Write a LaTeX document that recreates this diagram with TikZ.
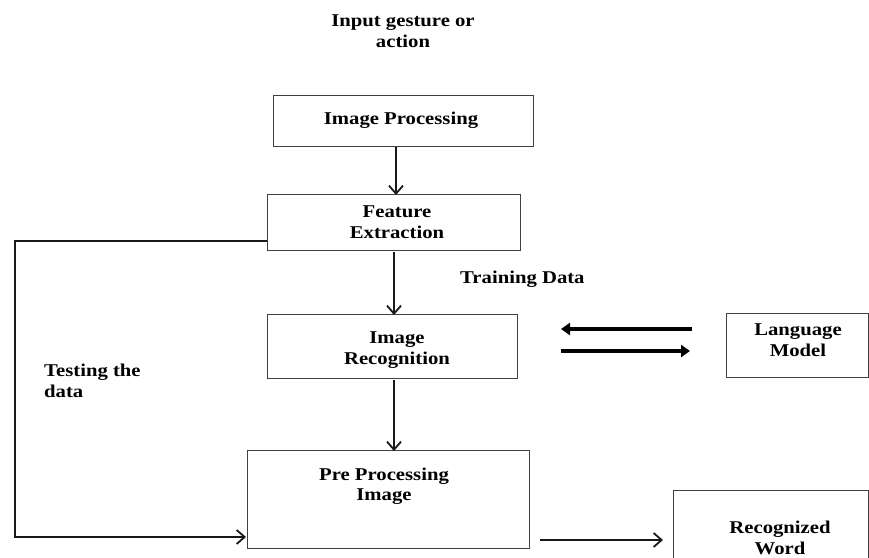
\documentclass[tikz,border=0pt]{standalone}
\usepackage{fontspec}
\setmainfont{Liberation Serif}[FakeStretch=1.15]
\usetikzlibrary{arrows.meta}
\begin{document}
\begin{tikzpicture}[x=1pt,y=-1pt,
  box/.style={draw=black!75, line width=1.2pt, anchor=north west, inner sep=0pt},
  lbl/.style={font=\fontsize{18}{20.5}\selectfont\bfseries, align=center, inner sep=0pt},
  arr/.style={draw=black!90, line width=1.8pt, -{Straight Barb[length=8pt,width=14pt,line width=1.8pt]}},
  thick arr/.style={line width=4pt, -{Stealth[length=9pt,width=12pt,inset=0pt]}}]
\clip (0,0) rectangle (869,557);
\fill[white] (0,0) rectangle (869,557);

\node[lbl] (input) at (403,31) {Input gesture or\\action};

\node[box, minimum width=260pt, minimum height=51pt] (ip) at (273,95) {};
\node[lbl] (iptxt) at (401,120) {Image Processing};

\node[box, minimum width=253pt, minimum height=56pt] (fe) at (267,194) {};
\node[lbl] (fetxt) at (397,222) {Feature\\Extraction};

\node[box, minimum width=250pt, minimum height=64pt] (ir) at (267,314) {};
\node[lbl] (irtxt) at (397,350) {Image\\Recognition};

\node[box, minimum width=142pt, minimum height=64pt] (lm) at (726,313) {};
\node[lbl] (lmtxt) at (798,340) {Language\\Model};

\node[box, minimum width=282pt, minimum height=98pt] (pp) at (247,450) {};
\node[lbl] (pptxt) at (384,486) {Pre Processing\\Image};

\node[box, minimum width=195pt, minimum height=90pt] (rw) at (673,490) {};
\node[lbl] (rwtxt) at (780,538) {Recognized\\Word};

\node[lbl, anchor=west] (train) at (460,279) {Training Data};
\node[lbl, anchor=west, align=left] (test) at (44,381) {Testing the\\data};

% vertical arrows
\draw[arr] (ip.south -| 396,0) -- ([yshift=-1pt]fe.north -| 396,0);
\draw[arr] ([yshift=-1pt]fe.south -| 394,0) -- ([yshift=-1pt]ir.north -| 394,0);
\draw[arr] ([yshift=-1pt]ir.south -| 394,0) -- ([yshift=-1pt]pp.north -| 394,0);

% language model arrows
\coordinate (la1) at (692,329);
\coordinate (la2) at (561,329);
\coordinate (ra1) at (561,351);
\coordinate (ra2) at (690,351);
\draw[thick arr] (la1) -- (la2);
\draw[thick arr] (ra1) -- (ra2);

% testing path
\coordinate (tc1) at (15,241);
\coordinate (tc2) at (15,537);
\draw[arr] (fe.west |- 0,241) -- (tc1) -- (tc2) -- ([xshift=-1pt]pp.west |- tc2);

% output arrow
\coordinate (oa) at (540,540);
\draw[arr] (oa) -- ([xshift=-10pt]rw.west |- oa);
\end{tikzpicture}
\end{document}
